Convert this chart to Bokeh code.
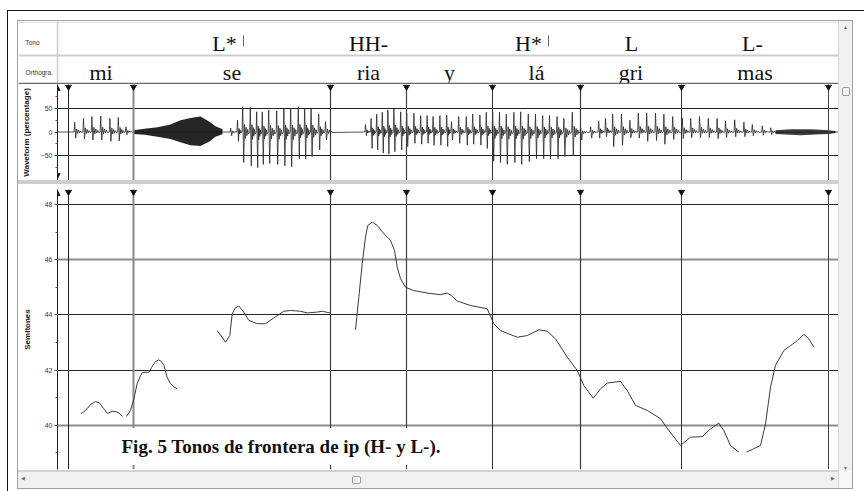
from bokeh.plotting import figure
from bokeh.layouts import column, row
from bokeh.models import (Range1d, Div, FixedTicker, SingleIntervalTicker, Grid, Span,
                          Arrow, NormalHead, Label)
from bokeh.core.properties import value
from bokeh.embed import file_html
from bokeh.resources import INLINE

# ---------------- annotation tiers (time in ms) ----------------
BOUNDS = [27.5, 190, 682.5, 872.5, 1087.5, 1307.5, 1560, 1927.5]
WORDS = ["mi", "se", "ria", "y", "lá", "gri", "mas"]
TONES = ["L*", "HH-", "H*", "L", "L-"]
TONE_T = [417.5, 777.5, 1177.5, 1435, 1737.5]
TONE_MARK_T = [465, 1227.5]
TIER_NAMES = ["Tono", "Orthogra."]

# ---------------- pitch contour (semitones) ----------------
F0_T_1 = [59, 70, 82.5, 95, 105, 115, 125, 137.5, 147.5, 155, 162.5]
F0_ST_1 = [40.42, 40.54, 40.75, 40.86, 40.81, 40.61, 40.43, 40.51, 40.49, 40.43, 40.32]
F0_T_2 = [172.5, 182.5, 191, 199, 207.5, 212.5, 228, 235, 245, 253, 260, 266, 274, 282.5, 291, 299]
F0_ST_2 = [40.32, 40.54, 40.96, 41.50, 41.80, 41.92, 41.92, 42.09, 42.31, 42.37, 42.31, 42.17,
           41.74, 41.51, 41.39, 41.32]
F0_T_3 = [399, 411.5, 420, 430.8, 436.8, 445, 453.3, 465.8, 478.3, 499.3, 520, 540.8, 565.8,
          582.5, 607.5, 624.3, 649.3, 661.8, 680.8]
F0_ST_3 = [43.43, 43.19, 43.01, 43.25, 44.04, 44.26, 44.32, 44.10, 43.80, 43.68, 43.68, 43.89,
           44.13, 44.16, 44.13, 44.07, 44.10, 44.13, 44.07]
F0_T_4 = [745, 753.3, 761.8, 770, 775.8, 786.8, 799.3, 815.8, 832.5, 842.5, 849.3, 857.5, 870,
          890.8, 924.3, 957.5, 974.3, 984.3, 999.3, 1032.5, 1074.3, 1090.8, 1107.5, 1149.3,
          1174.3, 1203.3, 1224.3, 1245, 1274.3, 1299.3, 1315.8, 1339.3, 1357.5, 1374.3, 1407.5,
          1424.3, 1445, 1474.3, 1507.5, 1528.3, 1557.5, 1582.5, 1611.8, 1632.5, 1653.3, 1665.8,
          1682.5, 1703.3]
F0_ST_4 = [43.46, 44.64, 45.85, 46.82, 47.24, 47.36, 47.24, 46.94, 46.70, 46.33, 45.73, 45.31,
           45.00, 44.88, 44.79, 44.73, 44.79, 44.70, 44.50, 44.34, 44.22, 43.68, 43.43, 43.19,
           43.25, 43.46, 43.41, 43.13, 42.47, 41.99, 41.44, 40.98, 41.32, 41.53, 41.59, 41.26,
           40.72, 40.54, 40.24, 39.81, 39.27, 39.57, 39.59, 39.87, 40.08, 39.81, 39.27, 39.03]
F0_T_5 = [1722.5, 1737.5, 1757.5, 1770, 1782.5, 1795, 1815.8, 1832.5, 1850, 1865.8, 1877.5, 1890.8]
F0_ST_5 = [39.03, 39.13, 39.27, 40.05, 41.38, 42.17, 42.71, 42.89, 43.07, 43.29, 43.15, 42.83]

# ---------------- waveform (percentage) ----------------
# glottal pulses: time, positive peak, negative peak
PULSE_T = [43, 65, 86, 108, 131, 152, 171,
           433, 450, 463, 482, 498, 512, 528, 548, 566, 583, 602, 618, 634, 653, 670,
           770, 784, 798, 812, 826, 841, 858, 873, 891, 908, 924, 939, 956, 973, 985,
           1003, 1022, 1038, 1056, 1072, 1088, 1105, 1122, 1141, 1158, 1177, 1195, 1213,
           1230, 1249, 1266, 1287, 1308, 1333, 1353, 1370, 1388, 1410, 1431, 1452, 1473,
           1495, 1516, 1538, 1562, 1583, 1605, 1627, 1649, 1670, 1693, 1716, 1737, 1762, 1783]
PULSE_HI = [21, 29, 33, 34, 29, 31, 11,
            8, 25, 54, 52, 43, 43, 47, 45, 50, 50, 54, 50, 49, 38, 22,
            16, 29, 38, 42, 47, 50, 43, 40, 40, 35, 35, 33, 35, 36, 22,
            33, 33, 38, 36, 42, 43, 42, 38, 42, 43, 38, 38, 35,
            35, 33, 29, 42, 9, 11, 23, 29, 38, 38, 25, 40, 40,
            40, 38, 33, 30, 29, 33, 29, 29, 23, 26, 21, 16, 13, 9]
PULSE_LO = [-13, -15, -17, -17, -20, -19, -6,
            -8, -20, -65, -72, -76, -69, -67, -69, -72, -74, -57, -57, -52, -38, -17,
            -8, -35, -38, -45, -47, -42, -38, -31, -24, -26, -24, -28, -28, -31, -17,
            -24, -28, -26, -28, -35, -62, -65, -69, -65, -69, -63, -57, -57,
            -57, -57, -52, -49, -17, -13, -13, -10, -31, -28, -12, -13, -20,
            -18, -26, -16, -14, -12, -12, -12, -14, -12, -10, -10, -8, -7, -6]
# fricative noise envelopes
FRIC1_T = [190, 217.5, 250, 282.5, 307.5, 332.5, 357.5, 380, 395, 412.5]
FRIC1_HI = [4, 7, 10, 16, 25, 30, 33, 22, 12, 6]
FRIC1_LO = [-4, -6, -10, -15, -22, -28, -30, -20, -10, -5]
FRIC2_T = [1795, 1832.5, 1857.5, 1882.5, 1907.5, 1927.5, 1945]
FRIC2_HI = [4, 6, 6, 6, 5, 4, 2]
FRIC2_LO = [-4, -6, -7, -6, -5, -4, -2]

T_END = 1952.5
T_LABEL_COL = -97.5          # time at the left edge of the tier-name column
WAVE_Y = (-103.2, 101.1)
ST_Y = (38.40, 48.54)

INK = "#1c1c1c"
SANS = "Liberation Sans"
SERIF = "Liberation Serif"


def wave_path():
    """Polyline through each pulse with a short decaying ringing after it."""
    ring = (0.3, -0.22, 0.18, -0.12, 0.1, -0.06)
    ts, vs = [0.0], [0.0]
    n = len(PULSE_T)
    for i in range(n):
        t, hi, lo = PULSE_T[i], PULSE_HI[i], PULSE_LO[i]
        nxt = PULSE_T[i + 1] if i + 1 < n else t + 20
        period = min(nxt - t, 22)
        ts += [t - 1.5, t, t + 2.5]
        vs += [0, hi, lo]
        step = (period - 5) / (len(ring) + 1)
        for k, f in enumerate(ring):
            ts.append(t + 2.5 + (k + 1) * step)
            vs.append(f * (hi if f > 0 else -lo))
    ts.append(T_END)
    vs.append(0)
    return ts, vs


def block(w, h, color=None, html=""):
    st = {"background-color": color} if color else {}
    return Div(text=html, width=w, height=h, margin=0, styles=st)


def base_fig(height, y_range, top=0, bottom=0):
    return figure(width=820, height=height, x_range=x_shared, y_range=y_range,
                  x_axis_location=None, output_backend="svg", toolbar_location=None,
                  min_border_left=39, min_border_right=0, min_border_top=top,
                  min_border_bottom=bottom, outline_line_color=None,
                  background_fill_color="white", border_fill_color="white")


x_shared = Range1d(0, T_END)

# ---------------- tiers (frame spans the name column too) ----------------
tiers = figure(width=820, height=63, x_range=Range1d(T_LABEL_COL, T_END),
               y_range=Range1d(63, 0), x_axis_location=None, y_axis_location=None,
               output_backend="svg", toolbar_location=None, min_border_left=0,
               min_border_right=0, min_border_top=0, min_border_bottom=0,
               outline_line_color=None, background_fill_color="white",
               border_fill_color="white")
if "frame_align" in tiers.properties():
    tiers.frame_align = False
tiers.xgrid.visible = False
tiers.ygrid.visible = False
tiers.add_layout(Span(location=1, dimension="width", line_color="#dedede", line_width=1))
tiers.add_layout(Span(location=34, dimension="width", line_color="#cdcdcd", line_width=2))
tiers.add_layout(Span(location=0, dimension="height", line_color="#cdcdcd", line_width=1.5))
tiers.add_layout(Span(location=62.3, dimension="width", line_color="#6a6a6a", line_width=2))
tiers.text(x=[-80, -80], y=[21, 51], text=TIER_NAMES, text_font=value(SANS),
           text_font_size="6.5px", text_color="#333", text_baseline="middle",
           text_align="left")

tiers.text(x=TONE_T, y=[21.5] * len(TONES), text=TONES, text_font=value(SERIF),
           text_font_size="22px", text_color="#111", text_align="center",
           text_baseline="alphabetic")
tiers.segment(x0=TONE_MARK_T, y0=[14] * len(TONE_MARK_T), x1=TONE_MARK_T,
              y1=[25] * len(TONE_MARK_T), line_color="#666", line_width=1)
word_mid = [(a + b) / 2 for a, b in zip(BOUNDS[:-1], BOUNDS[1:])]
tiers.text(x=word_mid, y=[50.5] * len(WORDS), text=WORDS, text_font=value(SERIF),
           text_font_size="22px", text_color="#111", text_align="center",
           text_baseline="alphabetic")

bound_colors = ["#222", "#8a8a8a", "#3a3a3a", "#444", "#333", "#3a3a3a", "#333", "#444"]
bound_widths = [1, 2, 1.2, 1.2, 1, 1.2, 1, 1]


def setup_axis(p, label, standoff):
    ax = p.yaxis[0]
    ax.axis_label = label
    ax.axis_label_text_font = SANS
    ax.axis_label_text_font_size = "8px"
    ax.axis_label_text_font_style = "bold"
    ax.axis_label_text_color = "#151515"
    ax.axis_label_standoff = standoff
    ax.major_label_text_font = SANS
    ax.major_label_text_font_size = "7px"
    ax.major_label_text_color = "#3a3a3a"
    ax.major_label_standoff = 2
    ax.major_tick_out = 3
    ax.major_tick_in = 0
    ax.minor_tick_out = 2
    ax.minor_tick_in = 0
    ax.axis_line_color = INK
    ax.major_tick_line_color = "#444"
    ax.minor_tick_line_color = "#555"


# ---------------- waveform ----------------
wave = base_fig(96, Range1d(*WAVE_Y))
setup_axis(wave, "Waveform (percentage)", 7)
wave.yaxis.ticker = FixedTicker(ticks=[-50, 0, 50], minor_ticks=[-75, -25, 25, 75])
wave.xgrid.visible = False
wave.ygrid.ticker = FixedTicker(ticks=[-50, 50])
wave.ygrid.grid_line_color = "#222"
wave.ygrid.grid_line_width = 1

wt, wv = wave_path()
wave.line(wt, wv, line_color="#262626", line_width=0.8)
wave.varea(x=FRIC1_T, y1=FRIC1_LO, y2=FRIC1_HI, fill_color="#141414", fill_alpha=0.92)
wave.varea(x=FRIC2_T, y1=FRIC2_LO, y2=FRIC2_HI, fill_color="#1a1a1a", fill_alpha=0.85)
wave.segment(x0=BOUNDS, y0=[WAVE_Y[0]] * len(BOUNDS), x1=BOUNDS, y1=[WAVE_Y[1]] * len(BOUNDS),
             line_color=bound_colors, line_width=bound_widths)
wave.scatter(x=BOUNDS, y=[96] * len(BOUNDS), marker="inverted_triangle", size=6,
             color="#111")
wave.add_layout(Arrow(start=NormalHead(size=5, fill_color=INK, line_color=INK),
                      end=NormalHead(size=5, fill_color=INK, line_color=INK),
                      x_start=0, y_start=-99, x_end=0, y_end=99, line_color=INK,
                      line_width=1))

# ---------------- pitch ----------------
pitch = base_fig(286, Range1d(*ST_Y), top=5, bottom=1)
setup_axis(pitch, "Semitones", 10)
pitch.yaxis.ticker = SingleIntervalTicker(interval=2, num_minor_ticks=2)
pitch.xgrid.visible = False
pitch.ygrid.ticker = FixedTicker(ticks=[42, 44, 48])
pitch.ygrid.grid_line_color = "#262626"
pitch.ygrid.grid_line_width = 1
pitch.add_layout(Grid(dimension=1, ticker=FixedTicker(ticks=[40, 46]),
                      grid_line_color="#8c8c8c", grid_line_width=2))

pitch.segment(x0=BOUNDS, y0=[ST_Y[0]] * len(BOUNDS), x1=BOUNDS, y1=[ST_Y[1]] * len(BOUNDS),
              line_color=bound_colors, line_width=bound_widths)
pitch.scatter(x=BOUNDS, y=[48.45] * len(BOUNDS), marker="inverted_triangle", size=6,
              color="#111")
for ts, ss in [(F0_T_1, F0_ST_1), (F0_T_2, F0_ST_2), (F0_T_3, F0_ST_3),
               (F0_T_4, F0_ST_4), (F0_T_5, F0_ST_5)]:
    pitch.line(ts, ss, line_color="#3a3a3a", line_width=1)
pitch.add_layout(Arrow(end=NormalHead(size=5, fill_color=INK, line_color=INK),
                       x_start=0, y_start=47.5, x_end=0, y_end=48.5, line_color=INK,
                       line_width=1))
pitch.add_layout(Label(x=140, y=39.23, text="Fig. 5 Tonos de frontera de ip (H- y L-).",
                       text_font=SERIF, text_font_size="19px",
                       text_font_style="bold", text_color="#111", text_baseline="middle",
                       background_fill_color="white", padding=8))

# ---------------- window chrome ----------------
hscroll = block(820, 18, html=(
    '<div style="position:relative;width:820px;height:18px;background:#f0f0f0;'
    'border-top:2px solid #d2d2d2;box-sizing:border-box">'
    '<div style="position:absolute;left:334px;top:4px;width:9px;height:8px;'
    'border:1px solid #9c9c9c;border-radius:2px;background:#f4f4f4"></div>'
    '<div style="position:absolute;left:3px;top:3px;font-size:5px;color:#666">&#9664;</div>'
    '<div style="position:absolute;left:813px;top:3px;font-size:5px;color:#666">&#9654;</div>'
    '</div>'))
vscroll = block(14, 467, html=(
    '<div style="position:relative;width:14px;height:467px;background:#f0f0f0;'
    'border-left:1px solid #dadada;box-sizing:border-box">'
    '<div style="position:absolute;left:3px;top:66px;width:8px;height:9px;'
    'border:1px solid #9c9c9c;border-radius:2px;background:#f4f4f4"></div>'
    '<div style="position:absolute;left:4px;top:3px;font-size:5px;color:#666">&#9650;</div>'
    '<div style="position:absolute;left:4px;top:444px;font-size:5px;color:#666">&#9660;</div>'
    '<div style="position:absolute;left:0px;top:450px;width:14px;height:17px;'
    'background:#f7f7f7"></div>'
    '</div>'))
sep = block(820, 4, "#cfcfcf")

panel = column(tiers, wave, sep, pitch, hscroll, spacing=0)
window = column(block(834, 1, "#a0a0a0"), row(panel, vscroll, spacing=0),
                block(834, 1, "#a0a0a0"), spacing=0)
inner = row(block(9, 469), block(1, 469, "#a0a0a0"), window, block(1, 469, "#a0a0a0"),
            spacing=0)
framed = column(block(856, 1, "#111"), block(856, 9), inner, spacing=0)
root = column(block(864, 10),
              row(block(7, 481), block(1, 481, "#111"), framed, spacing=0),
              spacing=0)

open("out.html", "w").write(file_html(root, INLINE))
